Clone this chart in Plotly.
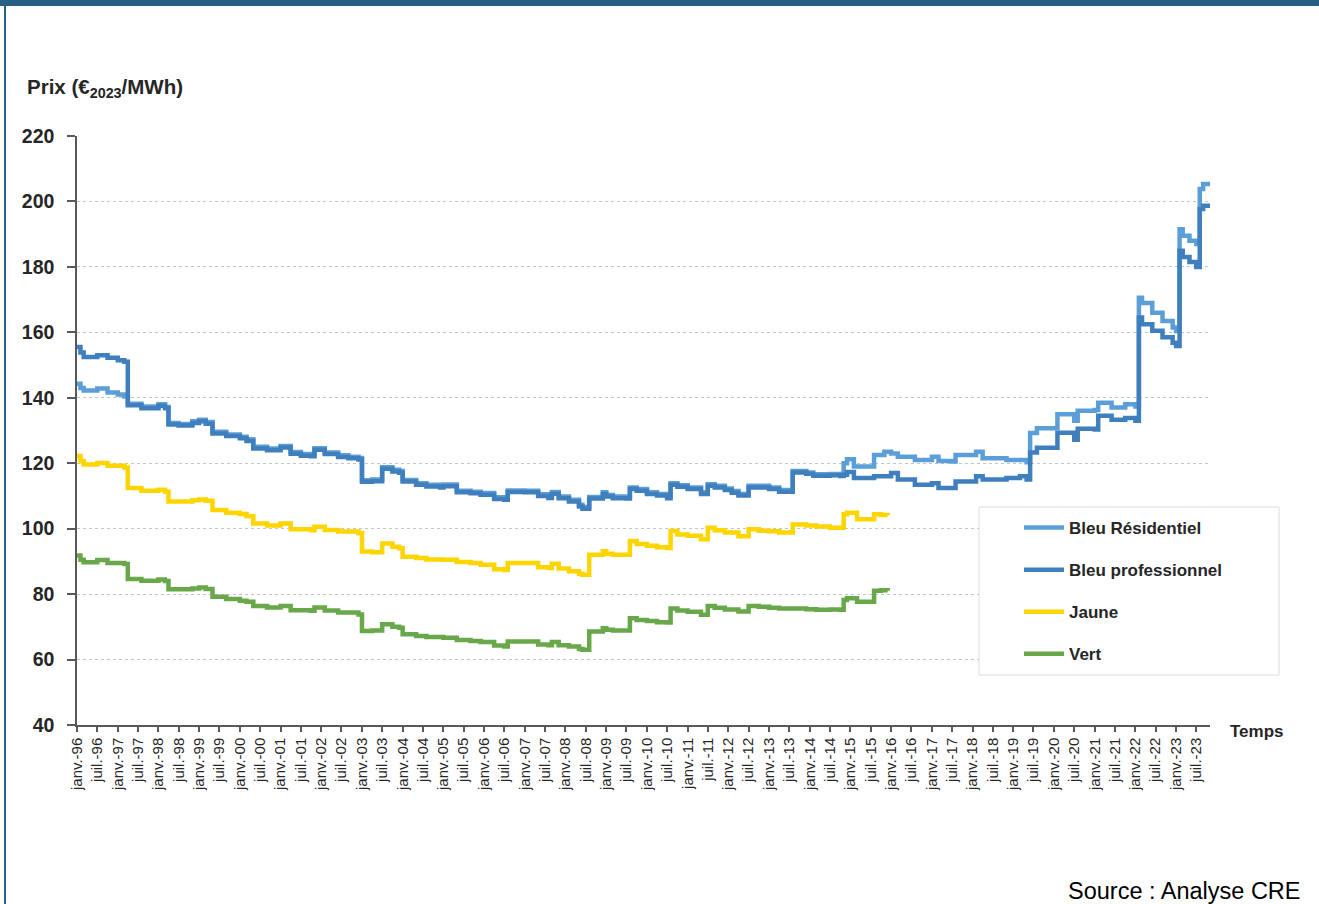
import plotly.graph_objects as go

# Prix réels des tarifs (€2023/MWh), points de changement
blue_dates = [
    "1996-01", "1996-02", "1996-03", "1996-07", "1996-10", "1997-01", "1997-03",
    "1997-04", "1997-08", "1998-01", "1998-03",
    "1998-04", "1998-07", "1998-11", "1999-01", "1999-03",
    "1999-05", "1999-09", "2000-01", "2000-03",
    "2000-05", "2000-09", "2001-01", "2001-04", "2001-07", "2001-10",
    "2001-11", "2002-02", "2002-06", "2002-09", "2002-12",
    "2003-01", "2003-04",
    "2003-07", "2003-10", "2003-12",
    "2004-01", "2004-05", "2004-08", "2004-12",
    "2005-01", "2005-05", "2005-09", "2005-12", "2006-04", "2006-07",
    "2006-08", "2007-01", "2007-05", "2007-08", "2007-09", "2007-11", "2008-02", "2008-05", "2008-06",
    "2008-08", "2008-12", "2009-01", "2009-03", "2009-07",
    "2009-08", "2009-10", "2010-01", "2010-04", "2010-07",
    "2010-08", "2010-10", "2011-01", "2011-05",
    "2011-07", "2011-09", "2011-12", "2012-02", "2012-04",
    "2012-07", "2012-10", "2013-01", "2013-04",
    "2013-08", "2013-12", "2014-02", "2014-07", "2014-10",
    "2014-11", "2014-12", "2015-02", "2015-06",
    "2015-08", "2015-11", "2016-01", "2016-03", "2016-08", "2017-01", "2017-03", "2017-07",
    "2017-08", "2018-02", "2018-04", "2018-11", "2019-03", "2019-05",
    "2019-06", "2019-08", "2020-01",
    "2020-02", "2020-07",
    "2020-08", "2021-01",
    "2021-02", "2021-06", "2021-10", "2022-01",
    "2022-02", "2022-03", "2022-06", "2022-09", "2022-12", "2023-01",
    "2023-02", "2023-03", "2023-05", "2023-07",
    "2023-08", "2023-09", "2023-11",
]

bleu_residentiel = [
    144.3, 143.0, 142.2, 142.8, 141.6, 141.0, 140.4,
    138.2, 137.3, 138.0, 137.2,
    132.3, 132.0, 132.8, 133.3, 132.6,
    129.6, 128.8, 128.1, 127.3,
    125.0, 124.5, 125.3, 123.4, 122.8, 122.6,
    124.6, 123.3, 122.4, 122.0, 121.6,
    114.8, 115.0,
    118.8, 118.0, 117.6,
    114.9, 113.9, 113.4, 113.1,
    113.5, 111.6, 111.3, 110.9, 109.6, 109.3,
    111.7, 111.6, 110.5, 109.9, 111.2, 109.8, 108.8, 107.3, 106.6,
    109.7, 111.1, 110.3, 109.8, 109.7,
    112.6, 112.1, 111.1, 110.6, 109.8,
    113.9, 113.3, 112.6, 111.1,
    113.6, 113.1, 112.3, 111.5, 110.6,
    113.1, 113.1, 112.6, 111.8,
    117.6, 117.2, 116.6, 116.7, 116.4,
    120.0, 121.2, 119.0, 119.0,
    122.5, 123.5, 123.0, 122.0, 121.0, 122.0, 120.7, 120.5,
    122.5, 123.5, 121.5, 121.0, 121.0, 120.3,
    129.2, 130.7, 130.7,
    135.0, 133.0,
    136.0, 136.3,
    138.5, 137.0, 138.0, 137.3,
    170.6, 169.0, 166.0, 163.5, 161.5, 160.4,
    191.5, 189.5, 188.0, 187.0,
    203.8, 205.3, 205.0,
]

bleu_professionnel = [
    155.5, 153.8, 152.5, 153.0, 152.2, 151.5, 151.0,
    137.7, 136.8, 137.6, 136.8,
    131.8, 131.5, 132.3, 132.8, 132.1,
    129.1, 128.3, 127.6, 126.8,
    124.5, 124.0, 124.8, 122.9, 122.3, 122.1,
    124.1, 122.8, 121.9, 121.5, 121.1,
    114.3, 114.5,
    118.3, 117.5, 117.1,
    114.4, 113.4, 112.9, 112.6,
    113.0, 111.1, 110.8, 110.4, 109.1, 108.8,
    111.2, 111.1, 110.0, 109.4, 110.7, 109.3, 108.3, 106.8, 106.1,
    109.2, 110.6, 109.8, 109.3, 109.2,
    112.1, 111.6, 110.6, 110.1, 109.3,
    113.4, 112.8, 112.1, 110.6,
    113.1, 112.6, 111.8, 111.0, 110.1,
    112.6, 112.6, 112.1, 111.3,
    117.2, 116.8, 116.2, 116.3, 116.1,
    116.5, 117.3, 115.5, 115.5,
    116.0, 116.0, 117.0, 115.0, 113.4, 113.9, 112.4, 112.4,
    114.4, 116.0, 115.0, 115.5, 116.0, 115.0,
    123.3, 124.7, 124.7,
    129.3, 127.2,
    130.5, 130.3,
    134.5, 133.3, 133.8, 133.0,
    164.5, 162.5, 160.5, 158.5, 156.8, 155.8,
    184.9, 183.0, 181.5, 180.0,
    197.7, 198.7, 198.5,
]

jv_dates = [
    "1996-01", "1996-02", "1996-03", "1996-07", "1996-10", "1997-03",
    "1997-04", "1997-08", "1998-01", "1998-03",
    "1998-04", "1998-11", "1999-01", "1999-03",
    "1999-05", "1999-09", "2000-01", "2000-03",
    "2000-05", "2000-09", "2001-01", "2001-04", "2001-10",
    "2001-11", "2002-02", "2002-06", "2002-12",
    "2003-01", "2003-04",
    "2003-07", "2003-10", "2003-12",
    "2004-01", "2004-05", "2004-08", "2005-01", "2005-05", "2005-09", "2005-12", "2006-04", "2006-07",
    "2006-08", "2007-01", "2007-05", "2007-08", "2007-09", "2007-11", "2008-02", "2008-05", "2008-06",
    "2008-08", "2008-12", "2009-01", "2009-03", "2009-07",
    "2009-08", "2009-10", "2010-01", "2010-04", "2010-07",
    "2010-08", "2010-10", "2011-01", "2011-05",
    "2011-07", "2011-09", "2011-12", "2012-04",
    "2012-07", "2012-10", "2013-01", "2013-04",
    "2013-08", "2013-12", "2014-03", "2014-07", "2014-10",
    "2014-11", "2014-12", "2015-03",
    "2015-08", "2015-10", "2015-12",
]

jaune = [
    122.2, 120.6, 119.6, 120.1, 119.2, 118.7,
    112.4, 111.6, 111.9, 111.3,
    108.3, 108.7, 108.9, 108.5,
    105.7, 104.9, 104.5, 103.8,
    101.6, 101.0, 101.6, 99.8, 99.5,
    100.6, 99.6, 99.1, 98.6,
    93.0, 92.8,
    95.5, 94.5, 94.0,
    91.4, 91.0, 90.6, 90.5, 89.8, 89.5, 89.0, 87.6, 87.4,
    89.5, 89.5, 88.2, 88.0, 89.3, 87.8, 87.0, 86.2, 85.9,
    92.0, 93.1, 92.3, 92.0, 92.0,
    96.2, 95.3, 94.8, 94.3, 94.1,
    99.3, 98.2, 97.8, 96.8,
    100.3, 99.5, 98.8, 97.7,
    99.8, 99.4, 99.2, 98.8,
    101.3, 101.0, 100.7, 100.3, 100.3,
    104.4, 104.9, 102.9,
    104.4, 104.2, 104.1,
]

vert = [
    91.8, 90.5, 89.7, 90.4, 89.5, 89.2,
    84.6, 84.1, 84.5, 84.0,
    81.5, 81.7, 82.0, 81.6,
    79.2, 78.5, 78.0, 77.7,
    76.4, 75.9, 76.4, 75.1, 74.9,
    75.9, 75.0, 74.4, 73.8,
    68.7, 68.9,
    70.8, 70.0, 69.7,
    67.7, 67.2, 66.9, 66.7, 66.0, 65.7, 65.4, 64.3, 64.0,
    65.5, 65.5, 64.6, 64.4, 65.4, 64.4, 64.0, 63.2, 63.0,
    68.6, 69.6, 69.1, 68.9, 68.9,
    72.6, 72.1, 71.8, 71.4, 71.3,
    75.6, 75.0, 74.6, 73.7,
    76.4, 75.8, 75.3, 74.7,
    76.4, 76.1, 75.8, 75.6,
    75.6, 75.4, 75.2, 75.3, 75.2,
    78.2, 78.7, 77.7,
    81.0, 81.2, 81.0,
]

# Graduations de l'axe du temps : janvier et juillet de chaque année
tick_years = list(range(1996, 2024))
tick_vals = []
tick_text = []
for yr in tick_years:
    tick_vals += [f"{yr}-01-01", f"{yr}-07-01"]
    tick_text += [f"janv.-{yr % 100:02d}", f"juil.-{yr % 100:02d}"]

FONT = "Arial, Liberation Sans, sans-serif"

series = [
    ("Bleu Résidentiel", blue_dates, bleu_residentiel, "#5c9fd8"),
    ("Bleu professionnel", blue_dates, bleu_professionnel, "#3f7fbe"),
    ("Jaune", jv_dates, jaune, "#ffd500"),
    ("Vert", jv_dates, vert, "#68a84b"),
]

fig = go.Figure()
for name, xs, ys, color in series:
    fig.add_trace(go.Scatter(
        x=xs, y=ys, name=name, mode="lines",
        line=dict(color=color, width=4.5, shape="hv"),
        legendgroup=name,
    ))

# Plot area in pixels: x 77..1210, y 136..725
L, R, T, B = 77, 1210, 136, 725
W, H = R - L, B - T


def px(x):
    return (x - L) / W


def py(y):
    return (B - y) / H


fig.update_layout(
    width=1319, height=904,
    margin=dict(l=L, r=1319 - R, t=T, b=904 - B),
    paper_bgcolor="white", plot_bgcolor="white",
    font=dict(family=FONT, color="#262626"),
    showlegend=True,
    legend=dict(
        x=px(1019), y=py(510), xanchor="left", yanchor="top",
        bgcolor="rgba(0,0,0,0)", borderwidth=0,
        font=dict(family=FONT, size=17, color="#262626", weight="bold"),
        traceorder="grouped", tracegroupgap=17, itemwidth=40,
    ),
    xaxis=dict(
        type="date",
        range=["1996-01-01", "2023-11-01"],
        tickmode="array", tickvals=tick_vals, ticktext=tick_text,
        tickangle=-90,
        ticks="outside", ticklen=5, tickcolor="#595959", tickwidth=1.5,
        tickfont=dict(family=FONT, size=15, color="#262626"),
        showline=True, linecolor="#595959", linewidth=1.5,
        showgrid=False, zeroline=False,
    ),
    yaxis=dict(
        range=[40, 220], dtick=20, tick0=40,
        ticks="outside", ticklen=8, tickcolor="#595959", tickwidth=1.5,
        ticklabelstandoff=9,
        tickfont=dict(family=FONT, size=19.5, color="#262626", weight="bold"),
        showline=True, linecolor="#595959", linewidth=1.5,
        showgrid=True, gridcolor="#c4c4c4", gridwidth=1, griddash="dot",
        zeroline=False,
    ),
    shapes=[
        # cadre de la légende
        dict(type="rect", xref="paper", yref="paper",
             x0=px(979), x1=px(1279), y0=py(675), y1=py(507),
             line=dict(color="#dcdcdc", width=1), fillcolor="white", layer="above"),
        # bandeau bleu en haut et bordure gauche
        dict(type="rect", xref="paper", yref="paper",
             x0=px(0), x1=px(1319), y0=py(6), y1=py(0),
             line=dict(width=0), fillcolor="#285f87", layer="above"),
        dict(type="line", xref="paper", yref="paper",
             x0=px(5), x1=px(5), y0=py(904), y1=py(0),
             line=dict(color="#285f87", width=2), layer="above"),
    ],
    annotations=[
        dict(text="<b>Prix (€<sub>2023</sub>/MWh)</b>", xref="paper", yref="paper",
             x=px(25), y=py(88), xanchor="left", yanchor="middle", showarrow=False,
             font=dict(family=FONT, size=20.5, color="#262626")),
        dict(text="<b>Temps</b>", xref="paper", yref="paper",
             x=px(1228), y=py(731), xanchor="left", yanchor="middle", showarrow=False,
             font=dict(family=FONT, size=17, color="#262626")),
        dict(text="Source : Analyse CRE", xref="paper", yref="paper",
             x=px(1303), y=py(891), xanchor="right", yanchor="middle", showarrow=False,
             font=dict(family=FONT, size=23.5, color="#000000")),
    ],
)

# la page HTML ajoute une marge de 8 px autour du graphique : on la retire
fig.write_html(
    "out.html",
    config={"displayModeBar": False},
    post_script="document.body.style.margin='0';document.body.style.overflow='hidden';",
)
